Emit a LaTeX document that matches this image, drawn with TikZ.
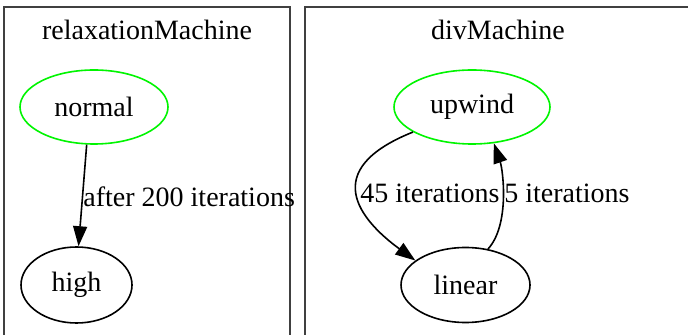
\documentclass[tikz,border=0pt]{standalone}
\usepackage{fontspec}
\setmainfont{Liberation Serif}
\usetikzlibrary{shapes.geometric,arrows.meta}
\begin{document}
\begin{tikzpicture}[x=0.5pt,y=-0.5pt,
  every node/.style={font=\fontsize{14}{17}\selectfont},
  state/.style={ellipse,draw,line width=0.8pt,inner sep=0pt},
  initstate/.style={state,draw={rgb,255:red,0;green,245;blue,0}},
  cluster/.style={draw=black!75,line width=1pt},
  edge/.style={draw,line width=0.8pt,-{Triangle[length=10pt,width=7pt]}},
  lbl/.style={inner sep=0pt,anchor=base west}]
\useasboundingbox (0,0) rectangle (688,335);
\clip (0,0) rectangle (688,335);
\fill[white] (0,0) rectangle (688,335);
% clusters
\draw[cluster] (4,7) rectangle (290,345);
\draw[cluster] (305,7) rectangle (692,345);
\node (t1) at (147,30) {relaxationMachine};
\node (t2) at (498,30) {divMachine};
% nodes
\node[initstate,minimum width=74pt,minimum height=37pt] (normal) at (94,107) {normal};
\node[state,minimum width=55.5pt,minimum height=38pt] (high) at (76.5,285) {high};
\node[initstate,minimum width=78pt,minimum height=37pt] (upwind) at (472,107) {upwind};
\node[state,minimum width=64.5pt,minimum height=37.5pt] (linear) at (465.5,285) {linear};
% edges
\draw[edge] (normal.259.3) -- (high.87.7);
\node[lbl] (l1) at (83,207) {after 200 iterations};
\draw[edge] (upwind.203.8) .. controls (318,170) and (360,220) .. (linear.154.6);
\draw[edge] (linear.58.7) .. controls (510,225) and (503,170) .. (upwind.301.2);
\node[lbl] (l2) at (360,203) {45 iterations};
\node[lbl] (l3) at (504,203) {5 iterations};
\end{tikzpicture}
\end{document}
